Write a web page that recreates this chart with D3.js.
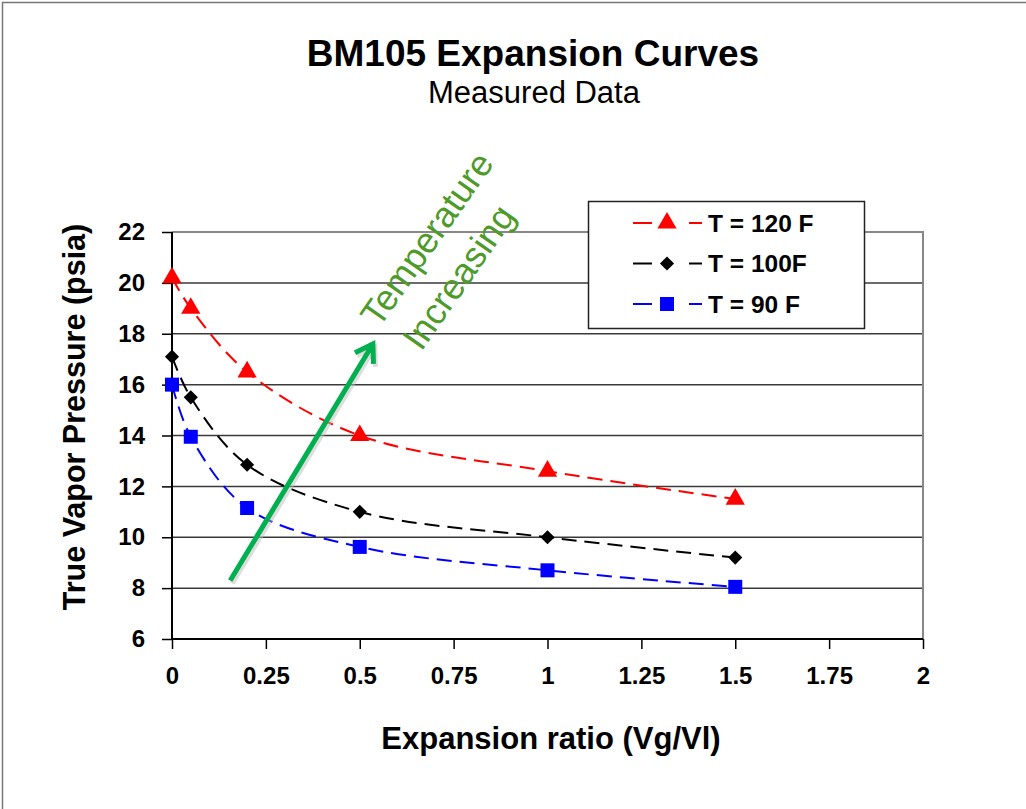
<!DOCTYPE html>
<html>
<head>
<meta charset="utf-8">
<script src="https://cdn.jsdelivr.net/npm/d3@7/dist/d3.min.js"></script>
<style>
  html, body { margin: 0; padding: 0; background: #fff; }
  svg { display: block; font-family: Arial, "Liberation Sans", sans-serif; }
</style>
</head>
<body>
<div id="chart"></div>
<script>
// 数据
const ratios = [0, 0.05, 0.2, 0.5, 1.0, 1.5];
const t120 = [20.2, 19.0, 16.5, 14.0, 12.6, 11.5];
const t100 = [17.1, 15.5, 12.85, 11.0, 10.0, 9.2];
const t90 = [16.0, 13.95, 11.15, 9.62, 8.7, 8.05];
const seriesNames = ['T = 120 F', 'T = 100F', 'T = 90 F'];
const xTicks = [0, 0.25, 0.5, 0.75, 1, 1.25, 1.5, 1.75, 2];
const yTicks = [6, 8, 10, 12, 14, 16, 18, 20, 22];
// 箭头注释 (数据坐标)
const arrowFrom = [0.155, 8.3];
const arrowTo = [0.535, 17.6];

const W = 1026, H = 809;
const svg = d3.select('#chart').append('svg')
    .attr('width', W).attr('height', H);

// 外框
svg.append('rect')
    .attr('x', 2.5).attr('y', 2.5)
    .attr('width', 1200).attr('height', 1000)
    .attr('fill', 'none').attr('stroke', '#777').attr('stroke-width', 1.5);

const plotL = 172, plotR = 923, plotT = 232, plotB = 639;
const x = d3.scaleLinear().domain([0, 2]).range([plotL, plotR]);
const y = d3.scaleLinear().domain([6, 22]).range([plotB, plotT]);

// 网格线
svg.append('g')
    .selectAll('line')
    .data(yTicks.filter(v => v > 6 && v < 22))
    .enter().append('line')
    .attr('x1', plotL).attr('x2', plotR)
    .attr('y1', d => y(d)).attr('y2', d => y(d))
    .attr('stroke', '#3a3a3a').attr('stroke-width', 1.5);

// 绘图区边框 (上 / 右)
svg.append('path')
    .attr('d', `M${plotL},${plotT}H${plotR}V${plotB}`)
    .attr('fill', 'none').attr('stroke', '#888').attr('stroke-width', 2);

// 坐标轴
const xAxis = d3.axisBottom(x).tickValues(xTicks).tickSize(10).tickPadding(18)
    .tickFormat(d => d3.format('')(d));
const yAxis = d3.axisLeft(y).tickValues(yTicks).tickSize(10).tickPadding(17);

const gx = svg.append('g').attr('transform', `translate(0,${plotB})`).call(xAxis);
const gy = svg.append('g').attr('transform', `translate(${plotL},0)`).call(yAxis);
[gx, gy].forEach(g => {
    g.select('.domain').attr('stroke', '#000').attr('stroke-width', 2);
    g.selectAll('.tick line').attr('stroke', '#000').attr('stroke-width', 1.5);
    g.selectAll('.tick text')
        .attr('fill', '#000')
        .style('font-size', '24px')
        .style('font-weight', 'bold')
        .style('font-family', 'Arial, "Liberation Sans", sans-serif');
});
gx.select('.domain').attr('d', `M${plotL},0H${plotR}`);
gy.select('.domain').attr('d', `M0,${plotB}V${plotT}`);
gx.selectAll('.tick text').attr('dy', '0.71em');

// 系列
const series = [
    { name: seriesNames[0], values: t120, color: '#ff0000', shape: d3.symbolTriangle, size: 160, rot: 0 },
    { name: seriesNames[1], values: t100, color: '#000000', shape: d3.symbolSquare, size: 100, rot: 45 },
    { name: seriesNames[2], values: t90, color: '#0000ff', shape: d3.symbolSquare, size: 196, rot: 0 }
];

const line = d3.line()
    .x(d => x(d[0]))
    .y(d => y(d[1]))
    .curve(d3.curveCatmullRom.alpha(0.5));

series.forEach(s => {
    const pts = ratios.map((r, i) => [r, s.values[i]]);
    svg.append('path')
        .datum(pts)
        .attr('d', line)
        .attr('fill', 'none')
        .attr('stroke', s.color)
        .attr('stroke-width', 2)
        .attr('stroke-dasharray', '15,8');
    svg.append('g')
        .selectAll('path')
        .data(pts)
        .enter().append('path')
        .attr('transform', d => `translate(${x(d[0])},${y(d[1])}) rotate(${s.rot})`)
        .attr('d', d3.symbol().type(s.shape).size(s.size))
        .attr('fill', s.color);
});

// 图例
const lg = svg.append('g').attr('transform', 'translate(588,201)');
lg.append('rect')
    .attr('x', 0.5).attr('y', 0.5).attr('width', 276).attr('height', 127)
    .attr('fill', '#fff').attr('stroke', '#222').attr('stroke-width', 1.5);
series.forEach((s, i) => {
    const cy = 22 + i * 40.5;
    lg.append('line')
        .attr('x1', 45).attr('x2', 114).attr('y1', cy).attr('y2', cy)
        .attr('stroke', s.color).attr('stroke-width', 2)
        .attr('stroke-dasharray', '19,37,14');
    lg.append('path')
        .attr('transform', `translate(79,${cy}) rotate(${s.rot})`)
        .attr('d', d3.symbol().type(s.shape).size(s.size))
        .attr('fill', s.color);
    lg.append('text')
        .attr('x', 120).attr('y', cy)
        .attr('dy', '0.36em')
        .style('font-size', '24.5px').style('font-weight', 'bold')
        .text(s.name);
});

// 箭头
const ax1 = x(arrowFrom[0]), ay1 = y(arrowFrom[1]);
const ax2 = x(arrowTo[0]), ay2 = y(arrowTo[1]);
const ang = Math.atan2(ay2 - ay1, ax2 - ax1);
const hl = 20, ha = Math.PI / 5.5;
const arrowPath = `M${ax1},${ay1}L${ax2},${ay2}` +
    `M${ax2 - hl * Math.cos(ang - ha)},${ay2 - hl * Math.sin(ang - ha)}` +
    `L${ax2},${ay2}` +
    `L${ax2 - hl * Math.cos(ang + ha)},${ay2 - hl * Math.sin(ang + ha)}`;
svg.append('path')
    .attr('d', arrowPath)
    .attr('fill', 'none').attr('stroke', '#bbb').attr('stroke-width', 5)
    .attr('opacity', 0.5)
    .attr('transform', 'translate(2,3)');
svg.append('path')
    .attr('d', arrowPath)
    .attr('fill', 'none').attr('stroke', '#00b050').attr('stroke-width', 5)
    .attr('stroke-linecap', 'butt').attr('stroke-linejoin', 'miter');

// 注释文字
const ann = svg.append('g').attr('transform', 'translate(437,246) rotate(-55)');
ann.append('text')
    .attr('text-anchor', 'middle').attr('x', 0).attr('y', 0)
    .style('font-size', '36px').attr('fill', '#4e9a2a')
    .text('Temperature');
ann.append('text')
    .attr('text-anchor', 'middle').attr('x', -13).attr('y', 48)
    .style('font-size', '36px').attr('fill', '#4e9a2a')
    .text('Increasing');

// 标题
svg.append('text')
    .attr('x', 533).attr('y', 66).attr('text-anchor', 'middle')
    .style('font-size', '37px').style('font-weight', 'bold')
    .text('BM105 Expansion Curves');
svg.append('text')
    .attr('x', 534).attr('y', 103).attr('text-anchor', 'middle')
    .style('font-size', '31px')
    .text('Measured Data');

// 轴标题
svg.append('text')
    .attr('x', 551).attr('y', 749).attr('text-anchor', 'middle')
    .style('font-size', '31px').style('font-weight', 'bold')
    .text('Expansion ratio (Vg/Vl)');
svg.append('text')
    .attr('transform', 'translate(85,417) rotate(-90)')
    .attr('text-anchor', 'middle')
    .style('font-size', '30.5px').style('font-weight', 'bold')
    .text('True Vapor Pressure (psia)');
</script>
</body>
</html>
